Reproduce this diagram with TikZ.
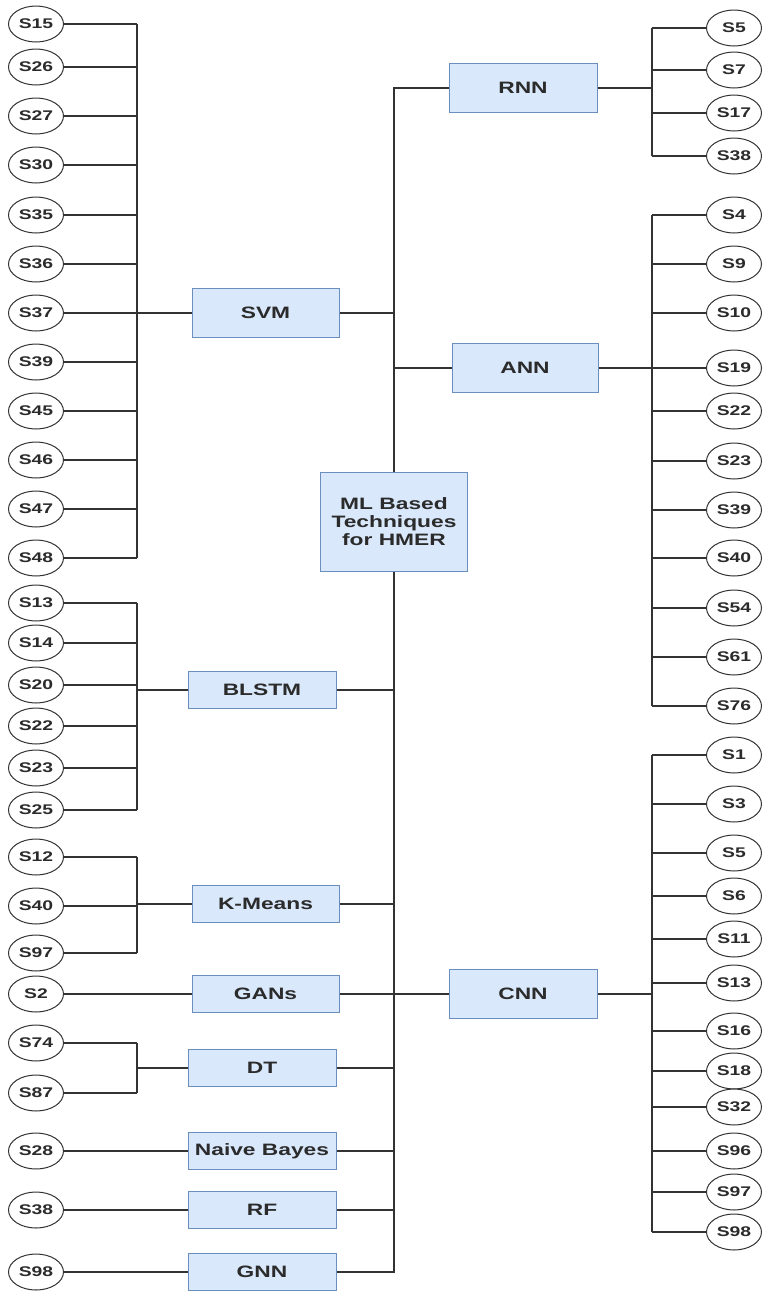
\documentclass[tikz,border=0pt]{standalone}
\usepackage{fontspec}
\setmainfont{Liberation Sans}[FakeStretch=1.38]
\usetikzlibrary{shapes.geometric}
\definecolor{boxfill}{HTML}{DAE8FC}
\definecolor{boxline}{HTML}{6C8EBF}
\definecolor{txt}{HTML}{2B2B2B}
\definecolor{ln}{HTML}{333333}
\tikzset{
 refnode/.style={ellipse, draw=ln, line width=1pt, fill=white, minimum width=55pt, minimum height=36pt, inner sep=0pt, text=txt, font=\fontsize{14}{16}\selectfont\bfseries},
 tech/.style={rectangle, draw=boxline, line width=1pt, fill=boxfill, minimum width=148pt, minimum height=37pt, inner sep=0pt, text=txt, font=\fontsize{16.5}{18}\selectfont\bfseries, align=center},
 tall/.style={tech, minimum height=49pt},
 conn/.style={draw=ln, line width=1.1pt},
}
\begin{document}
\begin{tikzpicture}[x=1pt,y=-1pt]
\useasboundingbox (0,0) rectangle (761,1291);
% technique boxes
\node[tech, minimum width=147pt, minimum height=99pt] (ml) at (394,522) {ML Based\\Techniques\\for HMER};
\node[tall, minimum width=147pt] (svm) at (265.5,313) {SVM};
\node[tech] (blstm) at (262,690) {BLSTM};
\node[tech, minimum width=147pt] (kmeans) at (265.5,904) {K-Means};
\node[tech, minimum width=147pt] (gans) at (265.5,994) {GANs};
\node[tech] (dt) at (262,1068) {DT};
\node[tech] (nb) at (262,1151) {Naive Bayes};
\node[tech] (rf) at (262,1210) {RF};
\node[tech] (gnn) at (262,1272) {GNN};
\node[tall] (rnn) at (523,88) {RNN};
\node[tall, minimum width=146pt] (ann) at (525,368) {ANN};
\node[tall] (cnn) at (523,994) {CNN};
% trunk
\coordinate (ttop) at (394,88);
\coordinate (tbot) at (394,1272);
\draw[conn] (rnn.west) -- (ttop) -- (ml.north);
\draw[conn] (ml.south) -- (tbot) -- (gnn.east);
\draw[conn] (svm.east) -- (svm.east -| ttop);
\draw[conn] (ann.west) -- (ann.west -| ttop);
\draw[conn] (blstm.east) -- (blstm.east -| ttop);
\draw[conn] (kmeans.east) -- (kmeans.east -| ttop);
\draw[conn] (gans.east) -- (cnn.west);
\draw[conn] (dt.east) -- (dt.east -| ttop);
\draw[conn] (nb.east) -- (nb.east -| ttop);
\draw[conn] (rf.east) -- (rf.east -| ttop);
% SVM group
\coordinate (svmbar) at (137,313);
\foreach \n/\y in {15/24,26/67,27/116,30/165,35/215,36/264,37/313,39/362,45/411,46/460,47/509,48/558}{
  \node[refnode] (svmS\n) at (36,\y) {S\n};
  \draw[conn] (svmS\n.east) -- (svmS\n.east -| svmbar);
}
\draw[conn] (svmS15.east -| svmbar) -- (svmS48.east -| svmbar);
\draw[conn] (svmbar) -- (svm.west);
% BLSTM group
\coordinate (blstmbar) at (137,690);
\foreach \n/\y in {13/603,14/643,20/685,22/726,23/768,25/810}{
  \node[refnode] (blS\n) at (36,\y) {S\n};
  \draw[conn] (blS\n.east) -- (blS\n.east -| blstmbar);
}
\draw[conn] (blS13.east -| blstmbar) -- (blS25.east -| blstmbar);
\draw[conn] (blstmbar) -- (blstm.west);
% K-Means group
\coordinate (kmbar) at (137,904);
\foreach \n/\y in {12/857,40/906,97/953}{
  \node[refnode] (kmS\n) at (36,\y) {S\n};
  \draw[conn] (kmS\n.east) -- (kmS\n.east -| kmbar);
}
\draw[conn] (kmS12.east -| kmbar) -- (kmS97.east -| kmbar);
\draw[conn] (kmbar) -- (kmeans.west);
% GANs
\node[refnode] (ganS2) at (36,994) {S2};
\draw[conn] (ganS2.east) -- (gans.west);
% DT group
\coordinate (dtbar) at (137,1068);
\foreach \n/\y in {74/1043,87/1093}{
  \node[refnode] (dtS\n) at (36,\y) {S\n};
  \draw[conn] (dtS\n.east) -- (dtS\n.east -| dtbar);
}
\draw[conn] (dtS74.east -| dtbar) -- (dtS87.east -| dtbar);
\draw[conn] (dtbar) -- (dt.west);
% single ones
\node[refnode] (nbS28) at (36,1151) {S28};
\draw[conn] (nbS28.east) -- (nb.west);
\node[refnode] (rfS38) at (36,1210) {S38};
\draw[conn] (rfS38.east) -- (rf.west);
\node[refnode] (gnnS98) at (36,1272) {S98};
\draw[conn] (gnnS98.east) -- (gnn.west);
% RNN group
\coordinate (rnnbar) at (652,88);
\foreach \n/\y in {5/28,7/70,17/113,38/156}{
  \node[refnode] (rnnS\n) at (734,\y) {S\n};
  \draw[conn] (rnnbar |- rnnS\n.west) -- (rnnS\n.west);
}
\draw[conn] (rnnbar |- rnnS5.west) -- (rnnbar |- rnnS38.west);
\draw[conn] (rnn.east) -- (rnnbar);
% ANN group
\coordinate (annbar) at (652,368);
\foreach \n/\y in {4/215,9/264,10/313,19/368,22/411,23/461,39/510,40/558,54/608,61/657,76/706}{
  \node[refnode] (annS\n) at (734,\y) {S\n};
  \draw[conn] (annbar |- annS\n.west) -- (annS\n.west);
}
\draw[conn] (annbar |- annS4.west) -- (annbar |- annS76.west);
\draw[conn] (ann.east) -- (annbar);
% CNN group
\coordinate (cnnbar) at (652,994);
\foreach \n/\y in {1/755,3/804,5/853,6/896,11/939,13/983,16/1031,18/1071,32/1107,96/1151,97/1192,98/1232}{
  \node[refnode] (cnnS\n) at (734,\y) {S\n};
  \draw[conn] (cnnbar |- cnnS\n.west) -- (cnnS\n.west);
}
\draw[conn] (cnnbar |- cnnS1.west) -- (cnnbar |- cnnS98.west);
\draw[conn] (cnn.east) -- (cnnbar);
\end{tikzpicture}
\end{document}
